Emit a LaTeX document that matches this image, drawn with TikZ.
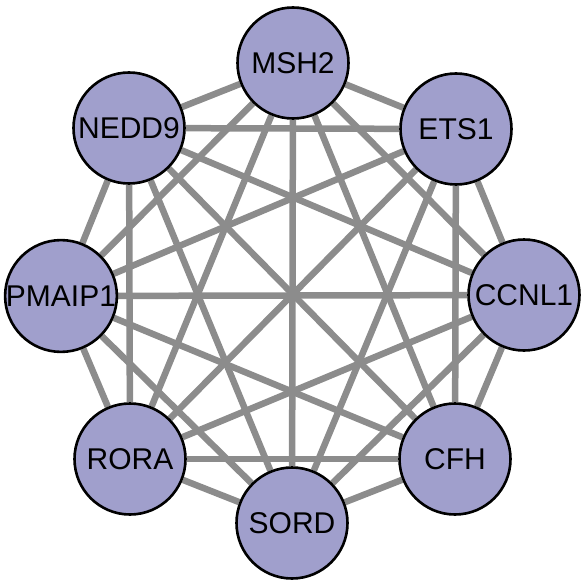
\documentclass[tikz,border=0pt]{standalone}
\usepackage{fontspec}
\setmainfont{Liberation Sans}
\usetikzlibrary{backgrounds}
\definecolor{nodefill}{HTML}{A09FCC}
\definecolor{edgegray}{HTML}{8C8C8C}
\begin{document}
\begin{tikzpicture}[x=1pt,y=-1pt,
  gene/.style={circle,draw=black,line width=2.6pt,fill=nodefill,minimum size=111pt,inner sep=0pt,font=\fontsize{30}{30}\selectfont},
  link/.style={draw=edgegray,line width=6.5pt}]
\useasboundingbox (0,0) rectangle (585,586);
\node[gene] (MSH2) at (293,63) {MSH2};
\node[gene] (ETS1) at (456,129) {ETS1};
\node[gene] (CCNL1) at (524,295) {CCNL1};
\node[gene] (CFH) at (455,459) {CFH};
\node[gene] (SORD) at (292,523) {SORD};
\node[gene] (RORA) at (130,459) {RORA};
\node[gene] (PMAIP1) at (61,296) {PMAIP1};
\node[gene] (NEDD9) at (129,128) {NEDD9};
\begin{pgfonlayer}{background}
\foreach \a/\b in {MSH2/ETS1,MSH2/CCNL1,MSH2/CFH,MSH2/SORD,MSH2/RORA,MSH2/PMAIP1,MSH2/NEDD9,
  ETS1/CCNL1,ETS1/CFH,ETS1/SORD,ETS1/RORA,ETS1/PMAIP1,ETS1/NEDD9,
  CCNL1/CFH,CCNL1/SORD,CCNL1/RORA,CCNL1/PMAIP1,CCNL1/NEDD9,
  CFH/SORD,CFH/RORA,CFH/PMAIP1,CFH/NEDD9,
  SORD/RORA,SORD/PMAIP1,SORD/NEDD9,
  RORA/PMAIP1,RORA/NEDD9,
  PMAIP1/NEDD9}
  \draw[link] (\a) -- (\b);
\end{pgfonlayer}
\end{tikzpicture}
\end{document}
